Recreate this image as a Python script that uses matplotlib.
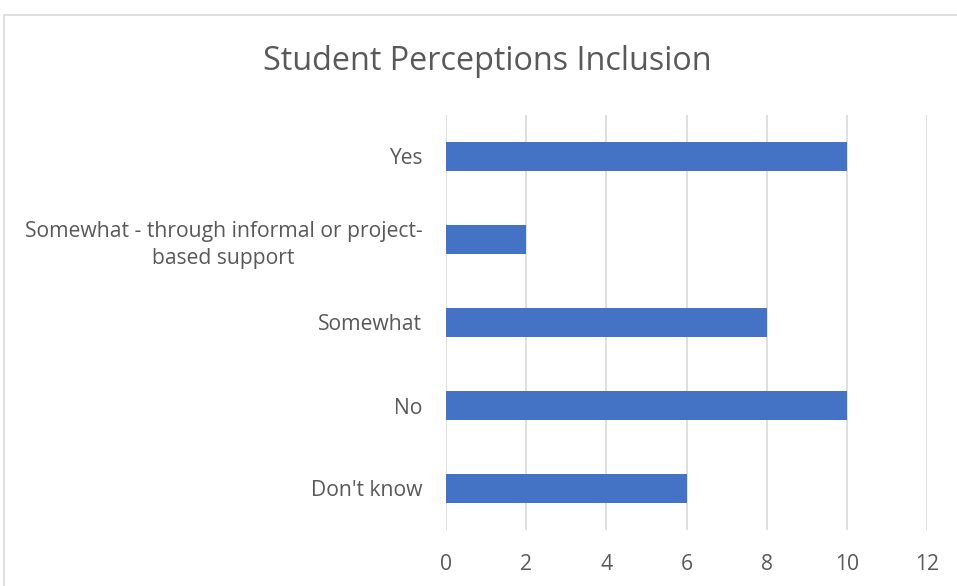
import matplotlib.pyplot as plt
from matplotlib.patches import Rectangle

# data
categories = ["Yes", "Somewhat - through informal or project-\nbased support",
              "Somewhat", "No", "Don't know"]
counts = [10, 2, 8, 10, 6]
xticks = [0, 2, 4, 6, 8, 10, 12]

plt.rcParams['font.family'] = ['Open Sans', 'DejaVu Sans']
text_col = "#595959"

fig = plt.figure(figsize=(9.57, 5.86), dpi=100)
ax = fig.add_axes([446 / 957, 1 - 530 / 586, 481 / 957, 415 / 586])

# chart frame
fig.patches.append(Rectangle((4 / 957, -0.1), 1.2, 1 - 15 / 586 + 0.1,
                             transform=fig.transFigure, fill=False,
                             edgecolor="#D9D9D9", linewidth=1.2))

pos = list(range(len(categories)))
ax.barh(pos, counts, height=0.34, color="#4472C4", zorder=3)
ax.set_ylim(len(categories) - 0.5, -0.5)
ax.set_yticks(pos)
ax.set_yticklabels(categories, fontsize=15.2, color=text_col, ha="right",
                   multialignment="center", linespacing=1.35)
ax.set_xlim(0, 12)
ax.set_xticks(xticks)
ax.set_xticklabels([str(v) for v in xticks], fontsize=15.2, color=text_col)
ax.tick_params(axis="y", length=0, pad=17)
ax.tick_params(axis="x", length=0, pad=17)

ax.grid(axis="x", color="#D9D9D9", linewidth=1.2, zorder=0)
for s in ax.spines.values():
    s.set_visible(False)

fig.text(487 / 957, 1 - 62 / 586, "Student Perceptions Inclusion",
         fontsize=23.3, color=text_col, ha="center", va="center")

fig.savefig("out.png", dpi=100)
